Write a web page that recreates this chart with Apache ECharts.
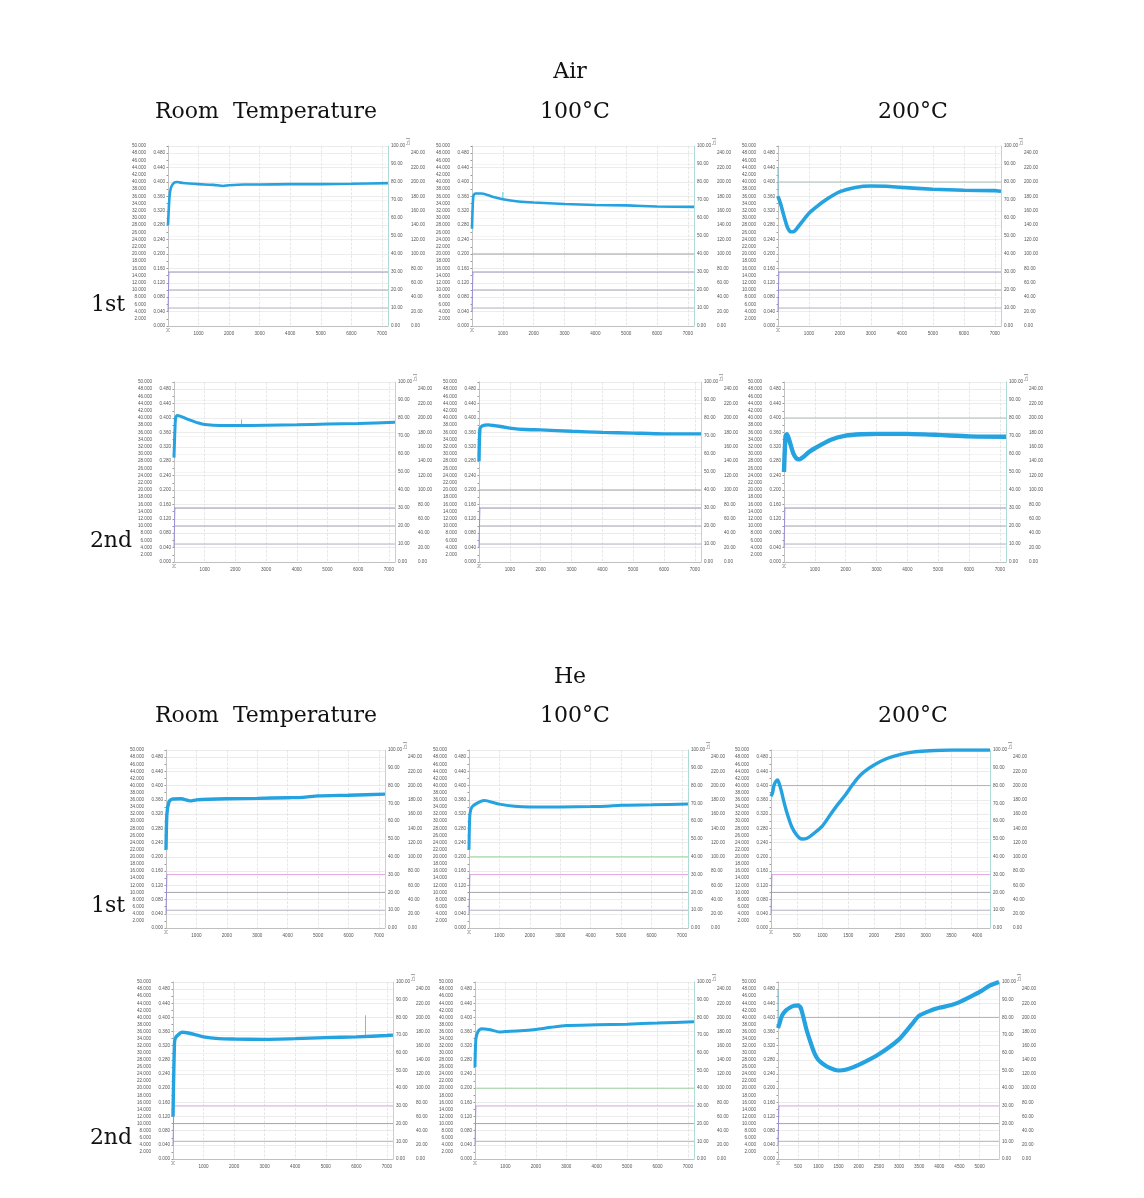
<!DOCTYPE html>
<html><head><meta charset="utf-8">
<script src="https://cdn.jsdelivr.net/npm/echarts@6/dist/echarts.min.js"></script>
<style>html,body{margin:0;padding:0;background:#fff}#c{width:1144px;height:1198px}</style>
</head><body><div id="c"></div>
<script>
// ---- DATA: [time s, value on 0–0.5 axis] ----
const airRT1 = [[0,0.28],[50,0.36],[100,0.385],[200,0.398],[300,0.400],[500,0.397],[1000,0.394],[1500,0.392],[1800,0.389],[2000,0.391],[2500,0.393],[3000,0.393],[4000,0.394],[5000,0.394],[6000,0.395],[7200,0.397]];
const air100_1 = [[0,0.27],[40,0.36],[100,0.368],[300,0.368],[500,0.364],[700,0.358],[1000,0.352],[1500,0.346],[2000,0.343],[3000,0.339],[4000,0.336],[5000,0.335],[6000,0.332],[7200,0.331]];
const air200_1 = [[0,0.36],[100,0.335],[200,0.303],[300,0.275],[400,0.262],[500,0.262],[600,0.27],[800,0.292],[1000,0.313],[1200,0.328],[1500,0.348],[2000,0.373],[2500,0.385],[3000,0.389],[3500,0.388],[4000,0.385],[5000,0.380],[6000,0.377],[7000,0.376],[7200,0.374]];
const airRT2 = [[0,0.29],[50,0.40],[100,0.407],[200,0.405],[500,0.395],[800,0.386],[1000,0.382],[1500,0.379],[2000,0.379],[3000,0.380],[4000,0.381],[5000,0.383],[6000,0.385],[7200,0.388]];
const air100_2 = [[0,0.28],[30,0.37],[100,0.378],[300,0.381],[500,0.379],[800,0.375],[1000,0.372],[1500,0.368],[2000,0.367],[3000,0.363],[4000,0.360],[5000,0.358],[6000,0.356],[7200,0.356]];
const air200_2 = [[0,0.25],[50,0.35],[100,0.355],[200,0.33],[300,0.302],[400,0.288],[500,0.285],[600,0.29],[800,0.305],[1000,0.316],[1500,0.339],[2000,0.351],[2500,0.355],[3000,0.356],[4000,0.356],[5000,0.353],[6000,0.349],[7200,0.348]];
const heRT1 = [[0,0.22],[30,0.32],[100,0.355],[200,0.362],[500,0.363],[800,0.357],[1000,0.36],[2000,0.363],[3000,0.364],[4000,0.366],[4500,0.367],[5000,0.371],[6000,0.373],[7200,0.376]];
const he100_1 = [[0,0.22],[30,0.32],[100,0.34],[300,0.352],[500,0.358],[600,0.357],[1000,0.348],[1500,0.342],[2000,0.340],[3000,0.340],[4000,0.341],[4500,0.342],[5000,0.345],[6000,0.346],[7200,0.348]];
const he200_1 = [[0,0.37],[30,0.38],[60,0.402],[100,0.413],[130,0.416],[160,0.405],[200,0.385],[250,0.355],[300,0.328],[400,0.285],[500,0.261],[600,0.25],[700,0.252],[800,0.262],[1000,0.287],[1150,0.318],[1300,0.348],[1450,0.375],[1570,0.40],[1700,0.424],[1800,0.438],[2000,0.458],[2250,0.476],[2500,0.487],[2750,0.494],[3000,0.497],[3500,0.5],[4250,0.5]];
const heRT2 = [[0,0.12],[50,0.33],[100,0.345],[300,0.358],[500,0.356],[1000,0.345],[1500,0.340],[2000,0.339],[3000,0.338],[4000,0.340],[5000,0.343],[6000,0.345],[7000,0.349],[7200,0.350]];
const he100_2 = [[0,0.26],[30,0.34],[100,0.36],[200,0.368],[500,0.365],[800,0.359],[1000,0.36],[1500,0.362],[2000,0.366],[2500,0.372],[3000,0.377],[4000,0.379],[5000,0.381],[6000,0.384],[7200,0.388]];
const he200_2 = [[0,0.37],[30,0.38],[100,0.405],[200,0.42],[300,0.428],[400,0.433],[500,0.434],[560,0.428],[620,0.405],[700,0.368],[800,0.332],[900,0.30],[1000,0.28],[1200,0.262],[1400,0.252],[1500,0.25],[1700,0.253],[2000,0.266],[2500,0.296],[3000,0.338],[3300,0.378],[3500,0.405],[3800,0.42],[4000,0.427],[4300,0.435],[4500,0.443],[4800,0.46],[5000,0.472],[5250,0.49],[5480,0.5]];

// spikes [time, value]
const air200_1Spike = [[0,0.44],[0,0.36]];
const air100_1Spike = [[1000,0.352],[1000,0.372]];
const airRT2Spike = [[2200,0.379],[2200,0.396]];
const heRT2Spike = [[6300,0.345],[6300,0.406]];
const he200_2Spike = [[0,0.48],[0,0.37]];

// reference levels on the 0–100 axis
const levelsRT = [30,20,10];
const levels100 = [40,30,20,10];
const levels200 = [80,30,20,10];

// axis extents
const xMaxLong = 7200, xMaxHe200_1 = 4250, xMaxHe200_2 = 5480;

const titlesCol = ['Room  Temperature','100°C','200°C'];
const rowLabels = ['1st','2nd'];
const gasLabels = ['Air','He'];

// ---- layout ----
const panels = [
  {d:airRT1, lv:levelsRT, xMax:xMaxLong, xi:1000, gas:'air', r:[168,146,220,180], w:2.6, sp:null},
  {d:air100_1, lv:levels100, xMax:xMaxLong, xi:1000, gas:'air', r:[472,146,222,180], w:2.6, sp:air100_1Spike},
  {d:air200_1, lv:levels200, xMax:xMaxLong, xi:1000, gas:'air', r:[778,146,223,180], w:3.6, sp:air200_1Spike},
  {d:airRT2, lv:levelsRT, xMax:xMaxLong, xi:1000, gas:'air', r:[174,382,221,180], w:3, sp:airRT2Spike},
  {d:air100_2, lv:levels100, xMax:xMaxLong, xi:1000, gas:'air', r:[479,382,222,180], w:3.4, sp:null},
  {d:air200_2, lv:levels200, xMax:xMaxLong, xi:1000, gas:'air', r:[784,382,222,180], w:4.4, sp:null},
  {d:heRT1, lv:levelsRT, xMax:xMaxLong, xi:1000, gas:'he', r:[166,750,219,178], w:3.4, sp:null},
  {d:he100_1, lv:levels100, xMax:xMaxLong, xi:1000, gas:'he', r:[469,750,219,178], w:3, sp:null},
  {d:he200_1, lv:levels200, xMax:xMaxHe200_1, xi:500, gas:'he', r:[771,750,219,178], w:3.4, sp:null},
  {d:heRT2, lv:levelsRT, xMax:xMaxLong, xi:1000, gas:'he', r:[173,982,220,177], w:3.4, sp:heRT2Spike},
  {d:he100_2, lv:levels100, xMax:xMaxLong, xi:1000, gas:'he', r:[475,982,219,177], w:3, sp:null},
  {d:he200_2, lv:levels200, xMax:xMaxHe200_2, xi:500, gas:'he', r:[778,982,221,177], w:4.2, sp:he200_2Spike}
];
const levelColor = {
  air:{80:'#a7c2b6',40:'#a3a3a8',30:'#9494b8',20:'#a4a4b0',10:'#b4b4c4'},
  he:{80:'#a9b3ad',40:'#9fd39f',30:'#e2a6e2',20:'#a4a4b0',10:'#b4b4c4'}
};
const FS = 4.6, LC = '#555';

const grid=[], xAxis=[], yAxis=[], series=[];
panels.forEach((p,i)=>{
  const [l,t,w,h]=p.r;
  grid.push({left:l, top:t, width:w, height:h});
  xAxis.push({type:'value', gridIndex:i, min:0, max:p.xMax, interval:p.xi,
    axisLine:{show:true, onZero:false, lineStyle:{color:'#b5b5b5', width:0.8}},
    axisTick:{show:false},
    axisLabel:{fontSize:FS, color:LC, margin:5, formatter:v=>(v===0||v%p.xi!==0)?'':String(v)},
    splitLine:{show:true, lineStyle:{color:'#dcdcdc', type:'dashed', width:0.7}}});
  yAxis.push({type:'value', gridIndex:i, position:'left', offset:20, min:0, max:50, interval:2,
    name:'[s]', nameLocation:'start', nameRotate:90, nameGap:2, nameTextStyle:{fontSize:4, color:LC, align:'right'},
    axisLine:{show:true, lineStyle:{color:'#c8c8c8', width:0.6}}, axisTick:{show:true, length:1.5, lineStyle:{color:'#999'}},
    axisLabel:{fontSize:FS, color:LC, margin:2, formatter:v=>v===0?'':v.toFixed(3)}, splitLine:{show:false}});
  yAxis.push({type:'value', gridIndex:i, position:'left', offset:0, min:0, max:0.5, interval:0.04,
    axisLine:{show:true, lineStyle:{color:'#bdbdbd', width:0.8}}, axisTick:{show:false},
    axisLabel:{fontSize:FS, color:LC, margin:3, formatter:v=>v>0.49?'':v.toFixed(3)},
    splitLine:{show:true, lineStyle:{color:'#e4e4e4', width:0.7}}});
  yAxis.push({type:'value', gridIndex:i, position:'right', offset:0, min:0, max:100, interval:10,
    axisLine:{show:true, lineStyle:{color:'#9fd6cf', width:0.8}}, axisTick:{show:false},
    axisLabel:{fontSize:FS, color:LC, margin:3, formatter:v=>v.toFixed(2)},
    splitLine:{show:true, lineStyle:{color:'#ececec', width:0.6}}});
  yAxis.push({type:'value', gridIndex:i, position:'right', offset:20, min:0, max:250, interval:20,
    name:'[°C]', nameLocation:'end', nameRotate:-90, nameGap:1, nameTextStyle:{fontSize:4, color:LC},
    axisLine:{show:false}, axisTick:{show:false},
    axisLabel:{fontSize:FS, color:LC, margin:3, formatter:v=>v>245?'':v.toFixed(2)}, splitLine:{show:false}});
  const yi = 4*i;
  p.lv.forEach(v=>{
    series.push({type:'line', xAxisIndex:i, yAxisIndex:yi+2, data:[[0,v],[p.xMax,v]], showSymbol:false, silent:true,
      lineStyle:{color:levelColor[p.gas][v], width:1}, z:2});
  });
  series.push({type:'line', xAxisIndex:i, yAxisIndex:yi+2, data:[[0,8],[p.xMax*0.004,30]], showSymbol:false, silent:true,
    lineStyle:{color:'#9c8fd8', width:1}, z:2});
  series.push({type:'line', xAxisIndex:i, yAxisIndex:yi+1, data:p.d, showSymbol:false, silent:true, smooth:0.2,
    lineStyle:{color:'#25a2e0', width:p.w}, z:5});
  if(p.sp){
    series.push({type:'line', xAxisIndex:i, yAxisIndex:yi+1, data:p.sp, showSymbol:false, silent:true,
      lineStyle:{color:'#6cc6d8', width:1}, z:4});
  }
});

const txt = (s,x,y)=>({type:'text', x:x, y:y, style:{text:s, font:'22px "DejaVu Serif"', fill:'#111', textAlign:'center', textVerticalAlign:'middle'}});
const graphic = [
  txt(gasLabels[0],570,72), txt(titlesCol[0],266,112), txt(titlesCol[1],575,112), txt(titlesCol[2],913,112),
  txt(rowLabels[0],108,305), txt(rowLabels[1],111,541),
  txt(gasLabels[1],570,677), txt(titlesCol[0],266,716), txt(titlesCol[1],575,716), txt(titlesCol[2],913,716),
  txt(rowLabels[0],108,906), txt(rowLabels[1],111,1138)
];

const chart = echarts.init(document.getElementById('c'), null, {renderer:'canvas'});
chart.setOption({animation:false, backgroundColor:'#fff', grid, xAxis, yAxis, series, graphic});
</script></body></html>
